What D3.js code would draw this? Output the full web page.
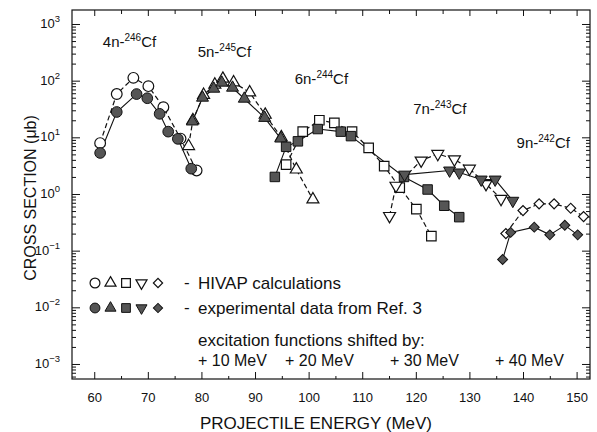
<!DOCTYPE html>
<html>
<head>
<meta charset="utf-8">
<script src="https://cdn.jsdelivr.net/npm/d3@7"></script>
<style>
    body { margin: 0; background: #fff; }
    text { font-family: "Liberation Sans", Arial, sans-serif; fill: #111; }
</style>
</head>
<body>
<div id="chart"></div>
<script>
// reaction channels (labels)
let channels = ["4n", "5n", "6n", "7n", "9n"];
let massNumbers = ["246", "245", "244", "243", "242"];

// HIVAP calculations (open symbols, dashed)
let energy4nCalc = [61.1, 64.2, 67.3, 70.1, 72.9, 76.1, 79.1];
let sigma4nCalc = [7.9, 58, 112, 80, 34, 9.5, 2.6];
let energy5nCalc = [77.6, 78.4, 80.4, 82.5, 84.0, 86.0, 89.0, 91.9, 94.9, 97.7, 100.8];
let sigma5nCalc = [7, 20, 56, 85, 108, 93, 62, 25, 10, 2.7, 0.8];
let energy6nCalc = [95.8, 98.9, 102.0, 104.8, 108.1, 111.2, 114.1, 117.0, 120.1, 122.9];
let sigma6nCalc = [3.3, 12.6, 20, 18, 12.6, 6.5, 3.1, 1.3, 0.54, 0.18];
let energy7nCalc = [115.1, 116.3, 121.0, 124.1, 127.2, 130.0, 133.1, 135.9];
let sigma7nCalc = [0.41, 1.4, 3.9, 5.1, 4.1, 2.8, 1.5, 0.82];
let energy9nCalc = [136.8, 140.0, 143.0, 145.8, 148.9, 151.3];
let sigma9nCalc = [0.2, 0.51, 0.67, 0.67, 0.56, 0.4];

// experimental data from Ref. 3 (filled symbols, solid)
let energy4nExp = [61.1, 64.2, 67.9, 69.9, 72.2, 73.8, 75.6, 78.1];
let sigma4nExp = [5.3, 28, 58, 49, 26, 12.6, 9.4, 2.8];
let energy5nExp = [78.3, 80.2, 82.3, 83.8, 85.8, 88.0, 91.8, 94.8];
let sigma5nExp = [19, 50, 72, 92, 75, 48, 22, 9.5];
let energy6nExp = [93.7, 95.8, 98.0, 101.7, 106.0, 107.9, 117.8, 122.2, 125.3, 128.1];
let sigma6nExp = [2.0, 6.8, 8.5, 14, 12.6, 10.5, 2.0, 1.2, 0.62, 0.39];
let energy7nExp = [117.9, 126.3, 128.1, 132.2, 134.8, 138.1];
let sigma7nExp = [2.2, 2.6, 2.4, 1.8, 1.8, 0.76];
let energy9nExp = [136.2, 137.7, 142.1, 145.0, 147.8, 150.2];
let sigma9nExp = [0.07, 0.21, 0.26, 0.19, 0.28, 0.19];

// where the channel labels sit (data coordinates)
let labelEnergy = [61.6, 79.3, 97.4, 119.5, 138.8];
let labelSigma = [393, 261, 87, 25.8, 6.5];

// axis ticks
let xMajorTicks = [60, 70, 80, 90, 100, 110, 120, 130, 140, 150];
let xMinorTicks = [65, 75, 85, 95, 105, 115, 125, 135, 145];
let yDecades = [-3, -2, -1, 0, 1, 2, 3];

let shiftLabels = ["+ 10 MeV", "+ 20 MeV", "+ 30 MeV", "+ 40 MeV"];

// SVG dimensions
let svgWidth = 597;
let svgHeight = 432;
let margin = { top: 10, right: 7, bottom: 53, left: 72 };
let chartWidth = svgWidth - margin.left - margin.right;
let chartHeight = svgHeight - margin.top - margin.bottom;

let svg = d3
    .select("#chart")
    .append("svg")
    .attr("width", svgWidth)
    .attr("height", svgHeight);

let chartGroup = svg
    .append("g")
    .attr("transform", `translate(${margin.left}, ${margin.top})`);

// scales
let xScale = d3.scaleLinear().domain([55.85, 152.5]).range([0, chartWidth]);
let yScale = d3.scaleLog().domain([Math.pow(10, -3.265), Math.pow(10, 3.247)]).range([chartHeight, 0]);

// minor y ticks 2..9 in every decade
let yMinorTicks = [];
for (let e = -4; e <= 3; e++) {
    for (let m = 2; m <= 9; m++) {
        let v = m * Math.pow(10, e);
        if (v > yScale.domain()[0] && v < yScale.domain()[1]) yMinorTicks.push(v);
    }
}
let yMajorTicks = yDecades.map(e => Math.pow(10, e));

// axes, ticks pointing inwards
function styleAxis(g) {
    g.select(".domain").remove();
    g.selectAll("line").attr("stroke", "#111").attr("stroke-width", 1);
}

chartGroup.append("g")
    .attr("transform", `translate(0, ${chartHeight})`)
    .call(d3.axisBottom(xScale).tickValues(xMajorTicks).tickSize(-7).tickPadding(14).tickFormat(d3.format("d")))
    .call(styleAxis)
    .selectAll("text")
    .attr("font-size", 13)
    .style("font-family", "Liberation Sans, Arial, sans-serif");

chartGroup.append("g")
    .attr("transform", `translate(0, ${chartHeight})`)
    .call(d3.axisBottom(xScale).tickValues(xMinorTicks).tickSize(-3).tickFormat(""))
    .call(styleAxis);

chartGroup.append("g")
    .call(d3.axisTop(xScale).tickValues(xMajorTicks).tickSize(-6).tickFormat(""))
    .call(styleAxis);

chartGroup.append("g")
    .call(d3.axisTop(xScale).tickValues(xMinorTicks).tickSize(-4).tickFormat(""))
    .call(styleAxis);

chartGroup.append("g")
    .call(d3.axisLeft(yScale).tickValues(yMajorTicks).tickSize(-8).tickFormat(""))
    .call(styleAxis);

chartGroup.append("g")
    .call(d3.axisLeft(yScale).tickValues(yMinorTicks).tickSize(-4).tickFormat(""))
    .call(styleAxis);

chartGroup.append("g")
    .attr("transform", `translate(${chartWidth}, 0)`)
    .call(d3.axisRight(yScale).tickValues(yMajorTicks).tickSize(-8).tickFormat(""))
    .call(styleAxis);

chartGroup.append("g")
    .attr("transform", `translate(${chartWidth}, 0)`)
    .call(d3.axisRight(yScale).tickValues(yMinorTicks).tickSize(-4).tickFormat(""))
    .call(styleAxis);

// y tick labels 10^n
let yLabels = chartGroup.append("g")
    .selectAll("text")
    .data(yDecades)
    .enter()
    .append("text")
    .attr("x", -12)
    .attr("y", d => yScale(Math.pow(10, d)) + 4)
    .attr("text-anchor", "end")
    .attr("font-size", 13);
yLabels.append("tspan").text("10");
yLabels.append("tspan")
    .attr("dy", -6)
    .attr("font-size", 9.5)
    .text(d => d < 0 ? "\u2212" + Math.abs(d) : d);

// frame
chartGroup.append("rect")
    .attr("width", chartWidth)
    .attr("height", chartHeight)
    .attr("fill", "none")
    .attr("stroke", "#111")
    .attr("stroke-width", 1.2);

// series
let symbolTypes = [d3.symbolCircle, d3.symbolTriangle, d3.symbolSquare, d3.symbolTriangle, d3.symbolSquare];
let symbolSizes = [90, 62, 90, 62, 50];
let symbolRotate = [0, 0, 0, 180, 45];

let calcSeries = [
    [energy4nCalc, sigma4nCalc], [energy5nCalc, sigma5nCalc], [energy6nCalc, sigma6nCalc],
    [energy7nCalc, sigma7nCalc], [energy9nCalc, sigma9nCalc]
].map((s, i) => ({ i: i, points: s[0].map((e, k) => [e, s[1][k]]) }));

let expSeries = [
    [energy4nExp, sigma4nExp], [energy5nExp, sigma5nExp], [energy6nExp, sigma6nExp],
    [energy7nExp, sigma7nExp], [energy9nExp, sigma9nExp]
].map((s, i) => ({ i: i, points: s[0].map((e, k) => [e, s[1][k]]) }));

let line = d3.line()
    .x(d => xScale(d[0]))
    .y(d => yScale(d[1]));

// lines
chartGroup.append("g")
    .selectAll("path")
    .data(calcSeries)
    .enter()
    .append("path")
    .attr("d", d => line(d.points))
    .attr("fill", "none")
    .attr("stroke", "#111")
    .attr("stroke-width", 1.2)
    .attr("stroke-dasharray", "5,3");

chartGroup.append("g")
    .selectAll("path")
    .data(expSeries)
    .enter()
    .append("path")
    .attr("d", d => line(d.points))
    .attr("fill", "none")
    .attr("stroke", "#111")
    .attr("stroke-width", 1.1);

function drawMarkers(series, open) {
    series.forEach(function(s) {
        chartGroup.append("g")
            .selectAll("path")
            .data(s.points)
            .enter()
            .append("path")
            .attr("d", d3.symbol().type(symbolTypes[s.i]).size(symbolSizes[s.i]))
            .attr("transform", d => `translate(${xScale(d[0])}, ${yScale(d[1])}) rotate(${symbolRotate[s.i]})`)
            .attr("fill", open ? "#fff" : "#555")
            .attr("stroke", "#111")
            .attr("stroke-width", open ? 1.2 : 1);
    });
}
drawMarkers(calcSeries, true);
drawMarkers(expSeries, false);

// channel labels
let chanLabels = chartGroup.append("g")
    .selectAll("text")
    .data(channels)
    .enter()
    .append("text")
    .attr("x", (d, i) => xScale(labelEnergy[i]))
    .attr("y", (d, i) => yScale(labelSigma[i]))
    .attr("font-size", 15);
chanLabels.append("tspan").text(d => d + "-");
chanLabels.append("tspan").attr("dy", -6).attr("font-size", 10).text((d, i) => massNumbers[i]);
chanLabels.append("tspan").attr("dy", 6).text("Cf");

// legend
let legend = svg.append("g");
let legendX = [95, 110.5, 126, 141.5, 158];
[283, 308].forEach(function(rowY, row) {
    legendX.forEach(function(lx, i) {
        legend.append("path")
            .attr("d", d3.symbol().type(symbolTypes[i]).size(symbolSizes[i] * 0.85))
            .attr("transform", `translate(${lx}, ${rowY}) rotate(${symbolRotate[i]})`)
            .attr("fill", row === 0 ? "#fff" : "#555")
            .attr("stroke", "#111")
            .attr("stroke-width", row === 0 ? 1.2 : 1);
    });
});

legend.append("text").attr("x", 184).attr("y", 288).attr("font-size", 17).text("-");
legend.append("text").attr("x", 198).attr("y", 289).attr("font-size", 17).text("HIVAP calculations");
legend.append("text").attr("x", 184).attr("y", 313).attr("font-size", 17).text("-");
legend.append("text").attr("x", 198).attr("y", 314).attr("font-size", 17).text("experimental data from Ref. 3");
legend.append("text").attr("x", 198).attr("y", 346).attr("font-size", 17).text("excitation functions shifted by:");

legend.selectAll(".shift")
    .data(shiftLabels)
    .enter()
    .append("text")
    .attr("class", "shift")
    .attr("x", (d, i) => [198, 285, 390, 495][i])
    .attr("y", 366)
    .attr("font-size", 16)
    .text(d => d);

// axis titles
svg.append("text")
    .attr("x", 316)
    .attr("y", 429)
    .attr("text-anchor", "middle")
    .attr("font-size", 17)
    .text("PROJECTILE ENERGY (MeV)");

svg.append("text")
    .attr("transform", "rotate(-90)")
    .attr("x", -198)
    .attr("y", 36)
    .attr("text-anchor", "middle")
    .attr("font-size", 16)
    .text("CROSS SECTION (\u03bcb)");
</script>
</body>
</html>
